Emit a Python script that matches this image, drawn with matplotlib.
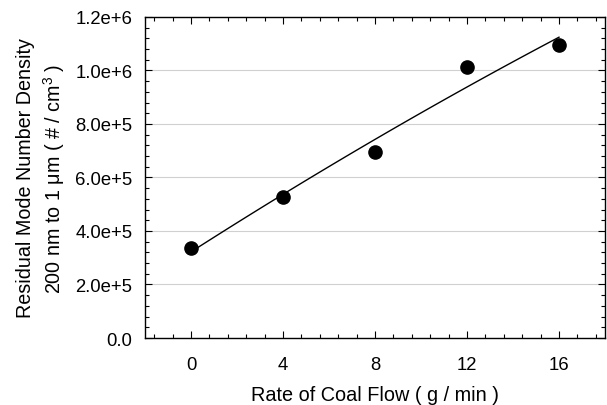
import numpy as np
import matplotlib
matplotlib.use("Agg")
import matplotlib.pyplot as plt
from matplotlib.ticker import FuncFormatter, MultipleLocator

plt.rcParams['font.family'] = ['Liberation Sans', 'DejaVu Sans']
plt.rcParams['mathtext.fontset'] = 'custom'
plt.rcParams['mathtext.rm'] = 'Liberation Sans'

coal_flow = [0, 4, 8, 12, 16]
density = [3.35e5, 5.27e5, 6.94e5, 1.012e6, 1.095e6]
x_ticks = [0, 4, 8, 12, 16]
y_ticks = [0, 2e5, 4e5, 6e5, 8e5, 1.0e6, 1.2e6]

fig = plt.figure(figsize=(6.07, 4.06), dpi=100)
ax = fig.add_axes([0.239, 0.165, 0.7577, 0.791])

coef = np.polyfit(coal_flow, density, 2)
xf = np.linspace(min(coal_flow), max(coal_flow), 100)
ax.plot(xf, np.polyval(coef, xf), color='black', lw=1.0, zorder=3)
ax.plot(coal_flow, density, 'o', color='black', markersize=9.5, zorder=4)

ax.set_xlim(-2, 18)
ax.set_ylim(0, 1.2e6)
ax.set_xticks(x_ticks)
ax.set_yticks(y_ticks)
ax.xaxis.set_minor_locator(MultipleLocator(0.8))
ax.yaxis.set_minor_locator(MultipleLocator(4e4))

def fmt(v, pos):
    if v == 0:
        return "0.0"
    e = int(np.floor(np.log10(abs(v)) + 1e-9))
    m = v / 10**e
    return f"{m:.1f}e+{e}"

ax.yaxis.set_major_formatter(FuncFormatter(fmt))
ax.grid(axis='y', which='major', color='#d0d0d0', lw=0.8)
ax.set_axisbelow(True)
ax.tick_params(which='both', direction='in', top=True, right=True, labelsize=13.3)
ax.tick_params(axis='y', which='major', length=5, width=0.8, pad=9)
ax.tick_params(axis='x', which='major', length=5, width=0.8, pad=13)
ax.tick_params(which='minor', length=3, width=0.8)
for s in ax.spines.values():
    s.set_linewidth(1.0)

ax.set_xlabel("Rate of Coal Flow ( g / min )", fontsize=14.3, labelpad=8.5)
ax.set_ylabel("Residual Mode Number Density\n200 nm to 1 \u03bcm ( # / cm$^3$ )", fontsize=14.2,
              labelpad=6, linespacing=1.3)

fig.savefig("out.png", dpi=100)
